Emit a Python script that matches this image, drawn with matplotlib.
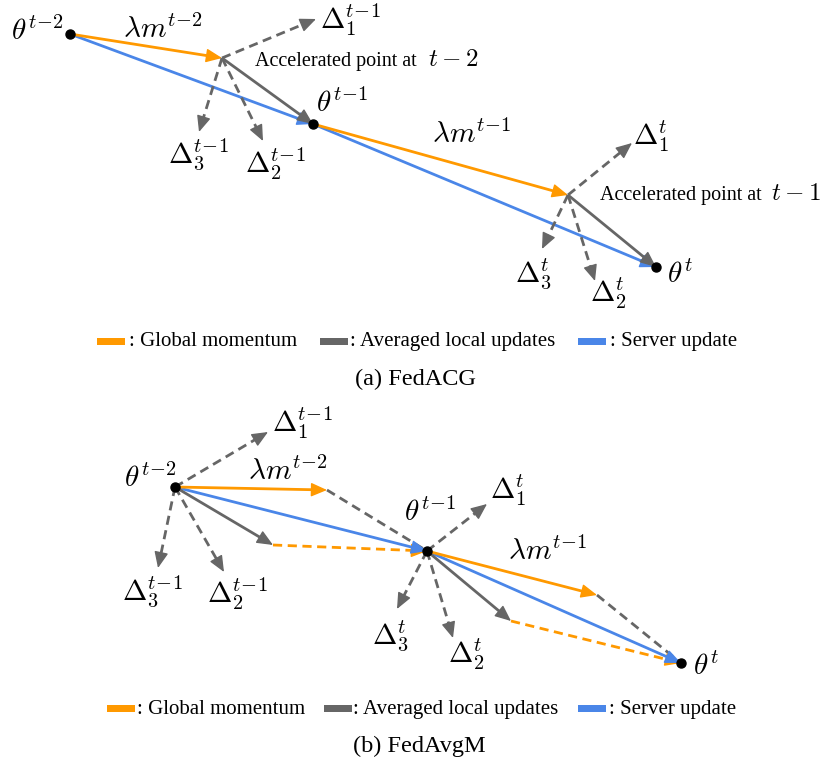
import numpy as np
import matplotlib
matplotlib.use("Agg")
import matplotlib.pyplot as plt
from matplotlib.patches import Rectangle

plt.rcParams['font.family'] = ['Liberation Serif', 'DejaVu Serif']
plt.rcParams['mathtext.fontset'] = 'cm'

ORANGE = '#FF9900'
GRAY = '#666666'
BLUE = '#4A86E8'

# FedACG: model points, accelerated points, client update tips
acg_theta = [(70, 34), (313, 124), (656, 267)]
acg_accel = [(222, 58), (568, 195)]
acg_delta_tips = [[(316, 19), (263, 141), (199, 132)],
                  [(632, 143), (595, 281), (542, 249)]]

# FedAvgM: model points, momentum tips, averaged local update tips, client update tips
avgm_theta = [(175, 487), (427, 551), (681, 663)]
avgm_momentum_tips = [(327, 490), (597, 595)]
avgm_local_tips = [(273, 545), (511, 621)]
avgm_delta_tips = [[(268, 432), (224, 572), (158, 568)],
                   [(487, 504), (453, 638), (397, 609)]]

legend_names = [': Global momentum', ': Averaged local updates', ': Server update']
legend_colors = [ORANGE, GRAY, BLUE]

LW = 2.0
HEAD = 14
DASH = (0, (3.3, 2.0))
MATH = 21
TM1 = r't\!-\!1'
TM2 = r't\!-\!2'


def arrow(ax, p0, p1, color, dashed=False, z=3, head=True):
    p0, p1 = np.array(p0, float), np.array(p1, float)
    d = p1 - p0
    u = d / np.hypot(*d)
    end = p1 - u * HEAD if head else p1
    ax.plot([p0[0], end[0]], [p0[1], end[1]], color=color, lw=LW,
            ls=DASH if dashed else '-', solid_capstyle='butt', zorder=z)
    if head:
        ax.annotate('', xy=p1, xytext=p1 - u * HEAD,
                    arrowprops=dict(arrowstyle='-|>,head_length=0.6,head_width=0.26',
                                    mutation_scale=16.5, color=color, lw=1,
                                    shrinkA=0, shrinkB=0),
                    zorder=z)


def dots(ax, pts):
    xs, ys = zip(*pts)
    ax.plot(xs, ys, 'o', color='black', ms=6.5, zorder=6)


def math(ax, x, y, s, size=MATH):
    ax.text(x, y, s, fontsize=size, ha='left', va='baseline', zorder=7)


def legend(ax, xs, txs, y, base):
    for x, tx, name, c in zip(xs, txs, legend_names, legend_colors):
        ax.add_patch(Rectangle((x, y - 3.5), 28, 7, color=c, lw=0))
        ax.text(tx, base, name, fontsize=15, ha='left', va='baseline')


fig = plt.figure(figsize=(8.27, 7.63), dpi=100)
ax = fig.add_axes([0, 0, 1, 1])
ax.set_xlim(0, 827)
ax.set_ylim(763, 0)
ax.axis('off')

# ---- (a) FedACG ----
for k in range(2):
    start, acc, nxt = acg_theta[k], acg_accel[k], acg_theta[k + 1]
    arrow(ax, start, nxt, BLUE, z=2)
    arrow(ax, start, acc, ORANGE, z=3)
    arrow(ax, acc, nxt, GRAY, z=3)
    for tip in acg_delta_tips[k]:
        arrow(ax, acc, tip, GRAY, dashed=True, z=3)
dots(ax, acg_theta)

math(ax, 11, 40, r'$\theta^{%s}$' % TM2)
math(ax, 123, 38, r'$\lambda m^{%s}$' % TM2)
math(ax, 320, 29, r'$\Delta_1^{%s}$' % TM1)
math(ax, 168, 163, r'$\Delta_3^{%s}$' % TM1)
math(ax, 245, 173, r'$\Delta_2^{%s}$' % TM1)
math(ax, 316, 112, r'$\theta^{%s}$' % TM1)
math(ax, 432, 143, r'$\lambda m^{%s}$' % TM1)
math(ax, 633, 145, r'$\Delta_1^{t}$')
math(ax, 515, 283, r'$\Delta_3^{t}$')
math(ax, 590, 302, r'$\Delta_2^{t}$')
math(ax, 667, 283, r'$\theta^{t}$')

ax.text(255, 66, 'Accelerated point at', fontsize=14.5, va='baseline')
math(ax, 428, 66, r'$t-2$', size=18)
ax.text(600, 200, 'Accelerated point at', fontsize=14.5, va='baseline')
math(ax, 771, 200, r'$t-1$', size=18)

legend(ax, [97, 320, 578], [129, 350, 610], 341, 346)
ax.text(415, 385, '(a) FedACG', fontsize=17.5, ha='center', va='baseline')

# ---- (b) FedAvgM ----
for k in range(2):
    start, nxt = avgm_theta[k], avgm_theta[k + 1]
    mom, loc = avgm_momentum_tips[k], avgm_local_tips[k]
    for tip in avgm_delta_tips[k]:
        arrow(ax, start, tip, GRAY, dashed=True, z=2)
    arrow(ax, mom, nxt, GRAY, dashed=True, z=2, head=False)
    arrow(ax, loc, nxt, ORANGE, dashed=True, z=3)
    arrow(ax, start, nxt, BLUE, z=3)
    arrow(ax, start, mom, ORANGE, z=4)
    arrow(ax, start, loc, GRAY, z=4)
dots(ax, avgm_theta)

math(ax, 124, 487, r'$\theta^{%s}$' % TM2)
math(ax, 248, 480, r'$\lambda m^{%s}$' % TM2)
math(ax, 272, 432, r'$\Delta_1^{%s}$' % TM1)
math(ax, 122, 600, r'$\Delta_3^{%s}$' % TM1)
math(ax, 207, 603, r'$\Delta_2^{%s}$' % TM1)
math(ax, 404, 521, r'$\theta^{%s}$' % TM1)
math(ax, 490, 499, r'$\Delta_1^{t}$')
math(ax, 508, 560, r'$\lambda m^{%s}$' % TM1)
math(ax, 372, 645, r'$\Delta_3^{t}$')
math(ax, 448, 663, r'$\Delta_2^{t}$')
math(ax, 693, 675, r'$\theta^{t}$')

legend(ax, [107, 324, 578], [137, 353, 609], 708, 714)
ax.text(419, 752, '(b) FedAvgM', fontsize=17.5, ha='center', va='baseline')

fig.savefig('out.png', dpi=100)
